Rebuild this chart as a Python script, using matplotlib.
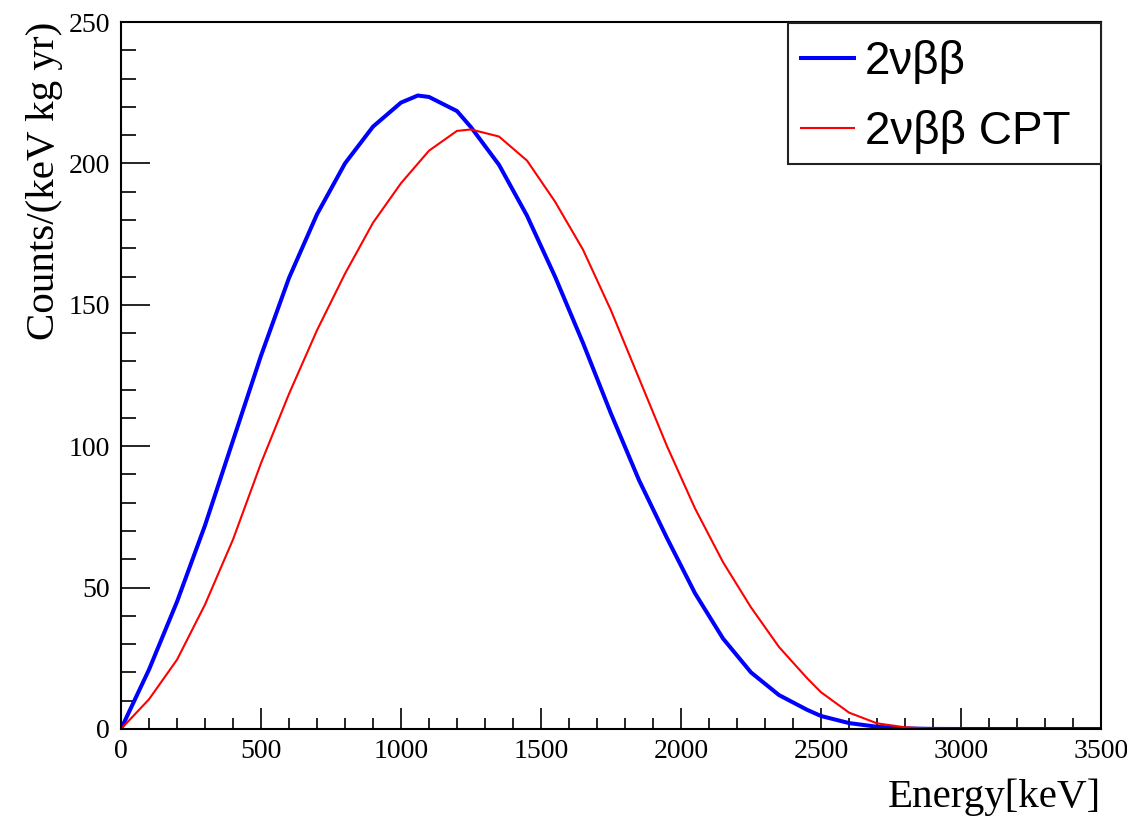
import matplotlib
matplotlib.use("Agg")
import matplotlib.pyplot as plt
from matplotlib.ticker import MultipleLocator
from matplotlib.patches import Rectangle
from matplotlib.lines import Line2D

# Spectra (energy in keV, counts per keV kg yr)
energy_2vbb = [0, 100, 200, 300, 400, 500, 600, 700, 800, 900, 1000, 1060, 1100, 1200,
               1250, 1350, 1450, 1550, 1650, 1750, 1850, 1950, 2050, 2150, 2250, 2350,
               2450, 2500, 2600, 2700, 2800, 2900, 3000, 3500]
counts_2vbb = [0, 21, 45, 72, 102, 132, 159.5, 182, 200, 213, 221.5, 224, 223.5, 218.5,
               212.8, 199.5, 181.5, 160, 136.5, 111.5, 88, 67.5, 48, 32, 20, 12,
               6.8, 4.6, 2.1, 0.8, 0.2, 0.03, 0, 0]
energy_cpt = [0, 100, 200, 300, 400, 500, 600, 700, 800, 900, 1000, 1100, 1200,
              1250, 1350, 1450, 1550, 1650, 1750, 1850, 1950, 2050, 2150, 2250, 2350,
              2450, 2500, 2600, 2700, 2800, 2900, 3000, 3500]
counts_cpt = [0, 10.5, 24.5, 44, 67, 94, 118.5, 141, 161, 179, 193, 204.5, 211.5,
              212, 209.5, 201, 186.5, 169.5, 148, 124, 100, 78, 59, 43, 29,
              18, 13, 5.8, 2, 0.6, 0.1, 0, 0]

label_a = "2νββ"
label_b = "2νββ CPT"
xlabel = "Energy[keV]"
ylabel = "Counts/(keV kg yr)"

W, H = 1127, 816
fig = plt.figure(figsize=(W / 100, H / 100), dpi=100)
ax = fig.add_axes([121 / W, 87 / H, 980 / W, 707 / H])

style_a = dict(color="#0000ff", lw=2.9, solid_joinstyle="round", solid_capstyle="round")
style_b = dict(color="#ff0000", lw=1.5, solid_joinstyle="round")
ax.plot(energy_2vbb, counts_2vbb, label=label_a, **style_a)
ax.plot(energy_cpt, counts_cpt, label=label_b, **style_b)

ax.set_xlim(0, 3500)
ax.set_ylim(0, 250)
ax.xaxis.set_major_locator(MultipleLocator(500))
ax.xaxis.set_minor_locator(MultipleLocator(100))
ax.yaxis.set_major_locator(MultipleLocator(50))
ax.yaxis.set_minor_locator(MultipleLocator(10))

serif = ["Liberation Serif", "DejaVu Serif"]
sans = ["Liberation Sans", "DejaVu Sans"]
for s in ax.spines.values():
    s.set_linewidth(1.5)
ax.tick_params(axis="both", which="both", direction="in", top=False, right=False,
               width=1.2, labelsize=20)
ax.tick_params(axis="x", which="major", length=15, pad=7)
ax.tick_params(axis="x", which="minor", length=8)
ax.tick_params(axis="y", which="major", length=21, pad=8)
ax.tick_params(axis="y", which="minor", length=11)
for lab in ax.get_xticklabels() + ax.get_yticklabels():
    lab.set_family(serif)

ax.set_xlabel(xlabel, family=serif, fontsize=29.5, loc="right", labelpad=11)
ax.set_ylabel(ylabel, family=serif, fontsize=29.5, loc="top", labelpad=4)

# Legend box drawn in figure pixel coordinates (ROOT-style TLegend)
def fx(px):
    return px / W

def fy(py):
    return 1 - py / H

fig.add_artist(Rectangle((fx(788), fy(164)), fx(1101) - fx(788), fy(23) - fy(164),
                         transform=fig.transFigure, facecolor="white",
                         edgecolor="#222222", lw=1.5, zorder=5))
for (lab, st, yline, ybase) in [(label_a, style_a, 58, 73.5), (label_b, style_b, 128, 143.5)]:
    fig.add_artist(Line2D([fx(801), fx(854)], [fy(yline), fy(yline)],
                          transform=fig.transFigure, zorder=6,
                          color=st["color"], lw=st["lw"]))
    fig.text(fx(865), fy(ybase), lab, family=sans, fontsize=33,
             ha="left", va="baseline", zorder=6)

fig.savefig("out.png", dpi=100, facecolor="white")
